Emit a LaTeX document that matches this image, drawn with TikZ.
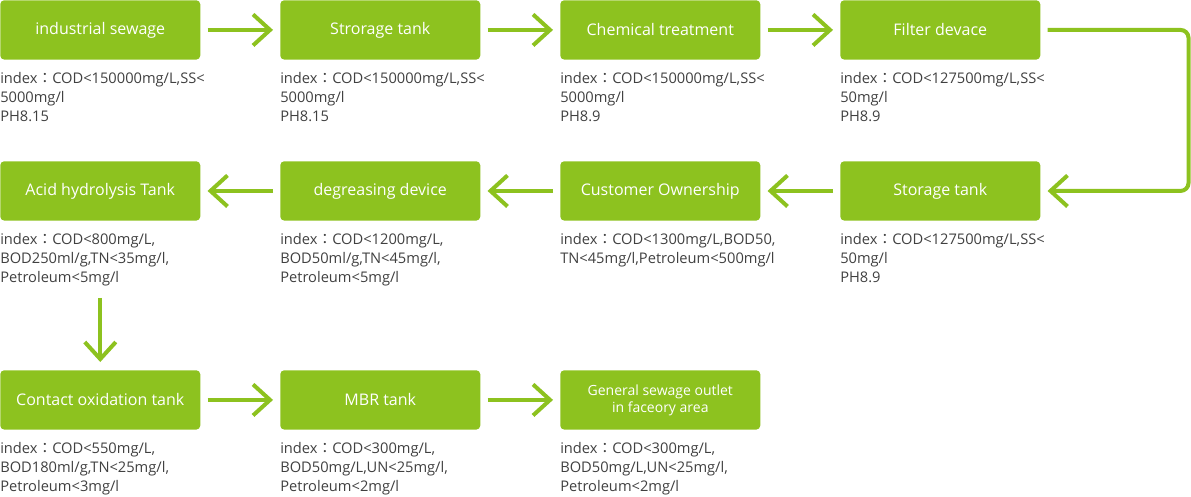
\documentclass[tikz,border=0pt]{standalone}
\usepackage{fontspec}
\setmainfont{Open Sans}
\newfontfamily\cjk{Noto Sans CJK TC}
\usetikzlibrary{arrows.meta}
\definecolor{leaf}{HTML}{8DC21F}
\definecolor{ink}{HTML}{404040}
\newcommand{\cl}{{\cjk ：}}
\begin{document}
\begin{tikzpicture}[x=0.75pt,y=-0.75pt,
  stagebox/.style={fill=leaf,rounded corners=3pt,minimum width=150pt,minimum height=44.5pt,
     inner sep=0pt,text=white,font=\fontsize{12}{14}\selectfont,anchor=north west,align=center},
  infotext/.style={anchor=north west,inner sep=0pt,text=ink,align=left,
     font=\fontsize{11}{14.25}\selectfont},
  flow/.style={draw=leaf,line width=3pt,-{Straight Barb[length=12.75pt,width=23.25pt,line width=3pt]},
     shorten <=5.25pt,shorten >=5.25pt}]
\useasboundingbox (0,0) rectangle (1191,496);
% row 1
\node[stagebox] (a1) at (0,0) {industrial sewage};
\node[stagebox] (a2) at (280,0) {Strorage tank};
\node[stagebox] (a3) at (560,0) {Chemical treatment};
\node[stagebox] (a4) at (840,0) {Filter devace};
% row 2
\node[stagebox] (b1) at (0,161) {Acid hydrolysis Tank};
\node[stagebox] (b2) at (280,161) {degreasing device};
\node[stagebox] (b3) at (560,161) {Customer Ownership};
\node[stagebox] (b4) at (840,161) {Storage tank};
% row 3
\node[stagebox] (c1) at (0,370) {Contact oxidation tank};
\node[stagebox] (c2) at (280,370) {MBR tank};
\node[stagebox,font=\fontsize{10.5}{12.75}\selectfont] (c3) at (560,370) {General sewage outlet\\in faceory area};
% texts
\node[infotext] (t1) at (0,72) {index\cl COD<150000mg/L,SS<\\5000mg/l\\PH8.15};
\node[infotext] (t2) at (280,72) {index\cl COD<150000mg/L,SS<\\5000mg/l\\PH8.15};
\node[infotext] (t3) at (560,72) {index\cl COD<150000mg/L,SS<\\5000mg/l\\PH8.9};
\node[infotext] (t4) at (840,72) {index\cl COD<127500mg/L,SS<\\50mg/l\\PH8.9};
\node[infotext] (u1) at (0,233) {index\cl COD<800mg/L,\\BOD250ml/g,TN<35mg/l,\\Petroleum<5mg/l};
\node[infotext] (u2) at (280,233) {index\cl COD<1200mg/L,\\BOD50ml/g,TN<45mg/l,\\Petroleum<5mg/l};
\node[infotext] (u3) at (560,233) {index\cl COD<1300mg/L,BOD50,\\TN<45mg/l,Petroleum<500mg/l};
\node[infotext] (u4) at (840,233) {index\cl COD<127500mg/L,SS<\\50mg/l\\PH8.9};
\node[infotext] (v1) at (0,442) {index\cl COD<550mg/L,\\BOD180ml/g,TN<25mg/l,\\Petroleum<3mg/l};
\node[infotext] (v2) at (280,442) {index\cl COD<300mg/L,\\BOD50mg/L,UN<25mg/l,\\Petroleum<2mg/l};
\node[infotext] (v3) at (560,442) {index\cl COD<300mg/L,\\BOD50mg/L,UN<25mg/l,\\Petroleum<2mg/l};
% connectors
\draw[flow] (a1) -- (a2);
\draw[flow] (a2) -- (a3);
\draw[flow] (a3) -- (a4);
\draw[flow,rounded corners=6pt] (a4.east) -- ++(148,0) |- (b4.east);
\draw[flow] (b4) -- (b3);
\draw[flow] (b3) -- (b2);
\draw[flow] (b2) -- (b1);
\draw[flow,shorten <=57.75pt,shorten >=6pt] (b1) -- (c1);
\draw[flow] (c1) -- (c2);
\draw[flow] (c2) -- (c3);
\end{tikzpicture}
\end{document}
